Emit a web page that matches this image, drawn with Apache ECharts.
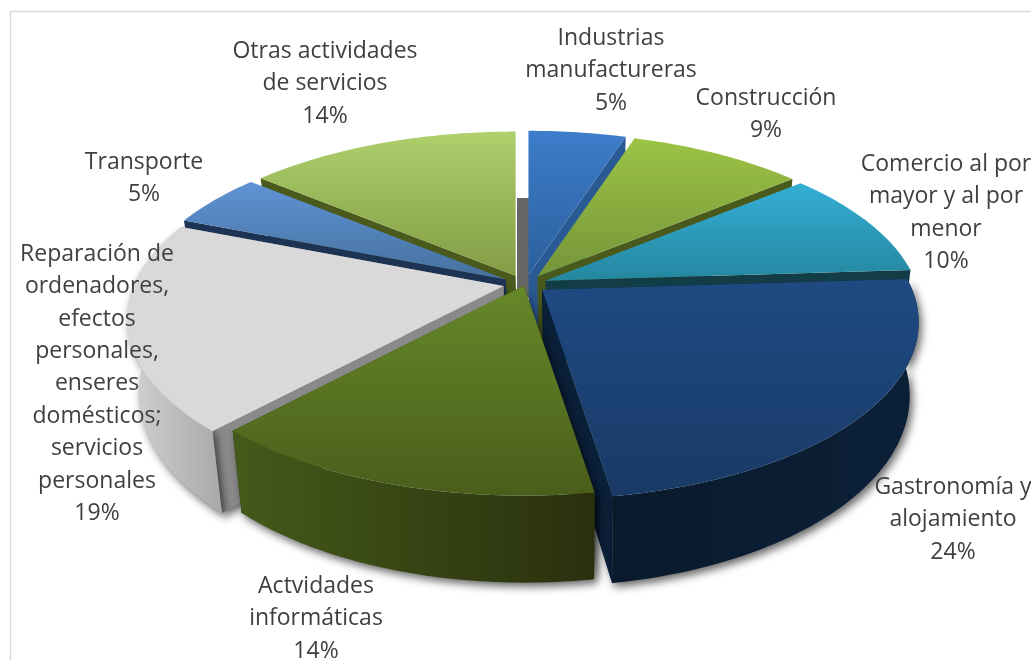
<!DOCTYPE html>
<html>
<head>
<meta charset="utf-8">
<style>html,body{margin:0;padding:0;background:#fff}#c{width:1031px;height:660px}</style>
<script src="https://cdn.jsdelivr.net/npm/echarts@6/dist/echarts.min.js"></script>
</head>
<body>
<div id="c"></div>
<script>
var categories = ['Industrias\nmanufactureras','Construcción','Comercio al por\nmayor y al por\nmenor','Gastronomía y\nalojamiento','Actvidades\ninformáticas','Reparación de\nordenadores,\nefectos\npersonales,\nenseres\ndomésticos;\nservicios\npersonales','Transporte','Otras actividades\nde servicios'];
var values = [5, 9, 10, 23.5, 14.4, 19.1, 5, 14];
var explode = [1, 1, 1, 1, 0.2, 1, 1, 1];
var topColors = [['#3d7dcb','#2b5f9c'],['#9cc445','#75953a'],['#34afd6','#25879f'],['#1f4a82','#193a66'],['#668829','#4a5e1b'],['#d9d9d9','#d9d9d9'],['#5f93d4','#46719f'],['#aed06d','#829c44']];
var wallColors = ['#2a5a94','#4a5a1c','#123c46','#0a1f38','#3a4c14','#8a8a8a','#1c3354','#4a5a1c'];
var sideColors = [['#2a5a94','#2a5a94'],['#4a5a1c','#4a5a1c'],['#123c46','#123c46'],['#0a1a2c','#0b2038'],['#445a1a','#2a300e'],['#d2d2d2','#a9a9a9'],['#1c3354','#1c3354'],['#4a5a1c','#4a5a1c']];
var labelAnchors = [[611,22],[766,82],[946,148],[953,471],[316,570],[97,238],[144,146],[325,35]];

var C = {x:525, y:284}, EX = 22, EY = 9, RX = 370, RY = 171, K = 0.185, H = 71, SHRINK = 0.974, PIVOT_X = 575;
var total = values.reduce(function(a,b){return a+b;},0);
var toAngle = function(v){ return v/total*360; };
var slices = [], acc = 0;
values.forEach(function(v,i){ var a0=acc, a1=acc+toAngle(v); acc=a1; slices.push({i:i,a0:a0,a1:a1,mid:(a0+a1)/2}); });
function rad(d){return d*Math.PI/180;}
slices.forEach(function(s){ s.ax=C.x+EX*explode[s.i]*Math.sin(rad(s.mid)); s.ay=C.y-EY*explode[s.i]*Math.cos(rad(s.mid)); });
var paintOrder = slices.slice().sort(function(a,b){return Math.cos(rad(b.mid))-Math.cos(rad(a.mid));});

function upper(s,deg){ var u=Math.sin(rad(deg)),v=-Math.cos(rad(deg)),p=1/(1-K*v); return {x:s.ax+RX*u*p,y:s.ay+RY*v*p,p:p}; }
function low(pt){ return [PIVOT_X+(pt.x-PIVOT_X)*SHRINK, pt.y+H*pt.p]; }
function arc(s){ var r=[]; var n=Math.ceil(s.a1-s.a0); for(var j=0;j<=n;j++){ r.push(upper(s,s.a0+(s.a1-s.a0)*j/n)); } return r; }
function vgrad(c){ return {type:'linear',x:0,y:0,x2:0,y2:1,colorStops:[{offset:0,color:c[0]},{offset:1,color:c[1]}]}; }
function hgrad(c){ return {type:'linear',x:0,y:0,x2:1,y2:0,colorStops:[{offset:0,color:c[0]},{offset:1,color:c[1]}]}; }

function renderSlice(params){
  var s = paintOrder[params.dataIndex], i = s.i, rim = arc(s);
  var apex = {x:s.ax,y:s.ay,p:1}, aL = low(apex);
  var front = Math.cos(rad(s.mid)) < 0;
  var sh = front ? {shadowBlur:9,shadowOffsetX:3,shadowOffsetY:4,shadowColor:'rgba(0,0,0,0.6)'} : {};
  var first = rim[0], last = rim[rim.length-1];
  var nearer = first.y > last.y ? first : last, farther = nearer === first ? last : first;
  function wall(pt,st){ return {type:'polygon',shape:{points:[[apex.x,apex.y],[pt.x,pt.y],low(pt),aL]},style:Object.assign({fill:wallColors[i]},st)}; }
  var outer = rim.map(function(p){return [p.x,p.y];}).concat(rim.slice().reverse().map(low));
  var children = [];
  if (front) children.push(wall(farther,{}));
  children.push(wall(nearer,sh));
  if (front) children.push({type:'polygon',shape:{points:outer},style:Object.assign({fill:hgrad(sideColors[i])},sh)});
  children.push({type:'polygon',shape:{points:[[apex.x,apex.y]].concat(rim.map(function(p){return [p.x,p.y];}))},style:{fill:vgrad(topColors[i])}});
  return {type:'group',children:children};
}
function renderLabel(params){
  var i = params.dataIndex;
  return {type:'text',style:{text:categories[i]+'\n'+Math.round(values[i])+'%',x:labelAnchors[i][0],y:labelAnchors[i][1],align:'center',verticalAlign:'top',font:'23px "Open Sans"',lineHeight:32.4,fill:'#404040'}};
}
var chart = echarts.init(document.getElementById('c'),null,{renderer:'canvas'});
chart.setOption({
  animation:false,
  backgroundColor:'#ffffff',
  graphic:[
    {type:'polyline',z:-1,shape:{points:[[10.5,660],[10.5,11.5],[1031,11.5]]},style:{stroke:'#d9d9d9',lineWidth:1.5,fill:null}},
    {type:'rect',z:-1,shape:{x:517,y:198,width:12,height:100},style:{fill:'#666666'}}
  ],
  series:[
    {type:'custom',coordinateSystem:'none',renderItem:renderSlice,data:paintOrder.map(function(s){return [s.i,values[s.i]];}),silent:true,z:2},
    {type:'custom',coordinateSystem:'none',renderItem:renderLabel,data:values.map(function(v,i){return [i,v];}),silent:true,z:3}
  ]
});
</script>
</body>
</html>
